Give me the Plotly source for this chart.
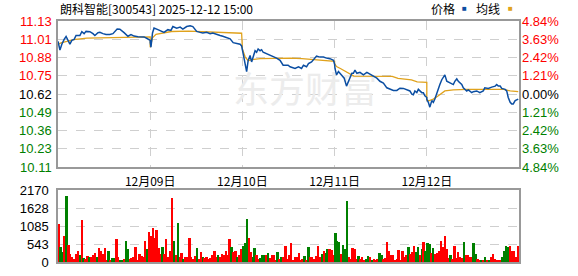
import plotly.graph_objects as go

# ---------------- data ----------------
title_text = "朗科智能[300543] 2025-12-12 15:00"
day_labels = ["12月08日", "12月09日", "12月10日", "12月11日", "12月12日"]
prev_close = 10.62
pct_ticks = [4.84, 3.63, 2.42, 1.21, 0.0, -1.21, -2.42, -3.63, -4.84]
vol_ticks = [0, 543, 1085, 1628, 2170]
minutes_per_day = 240

# price: minute-of-day and price, per day
price_t = [
    [0, 5, 10, 13, 16, 21, 26, 31, 36, 42, 47, 57, 62, 68, 73, 83, 91, 96, 104, 109, 117, 125, 135, 143, 154, 161, 172, 182, 190, 198, 208, 216, 224, 232, 240],
    [0, 2, 6, 10, 20, 28, 36, 46, 54, 59, 69, 78, 85, 95, 104, 111, 121, 130, 137, 147, 156, 163, 173, 182, 189, 199, 208, 216, 225, 234, 238],
    [0, 2, 7, 11, 15, 20, 24, 28, 33, 37, 41, 46, 50, 54, 63, 72, 80, 89, 98, 106, 119, 124, 137, 146, 154, 159, 167, 172, 180, 189, 193, 202, 211, 219, 228, 237],
    [0, 1, 5, 10, 14, 18, 25, 31, 36, 40, 45, 49, 53, 58, 66, 75, 84, 92, 101, 110, 118, 127, 136, 144, 153, 162, 170, 179, 188, 196, 201, 205, 209, 214, 218, 222, 227, 231, 235, 240],
    [0, 4, 8, 13, 17, 21, 26, 30, 34, 39, 43, 47, 52, 56, 60, 65, 69, 73, 78, 82, 86, 91, 95, 99, 104, 108, 112, 117, 121, 130, 138, 147, 151, 160, 169, 178, 182, 186, 191, 195, 204, 208, 212, 217, 221, 225, 230, 234, 238],
]
price_v = [
    [10.991, 10.930, 10.971, 10.991, 11.005, 11.025, 10.998, 10.971, 10.998, 11.005, 11.032, 11.032, 11.059, 11.045, 11.061, 11.059, 11.045, 11.032, 11.052, 11.054, 11.045, 11.039, 11.039, 11.045, 11.077, 11.076, 11.052, 11.027, 11.039, 11.028, 11.023, 11.025, 11.022, 11.011, 10.998],
    [10.985, 10.950, 11.050, 11.084, 11.073, 11.061, 11.054, 11.073, 11.068, 11.095, 11.084, 11.091, 11.077, 11.095, 11.100, 11.095, 11.061, 11.054, 11.050, 11.054, 11.045, 11.050, 11.039, 11.032, 11.027, 11.016, 11.009, 10.982, 10.977, 10.971, 10.959],
    [10.930, 10.914, 10.846, 10.778, 10.857, 10.891, 10.846, 10.880, 10.925, 10.914, 10.937, 10.925, 10.932, 10.914, 10.903, 10.891, 10.887, 10.873, 10.857, 10.823, 10.823, 10.812, 10.800, 10.812, 10.800, 10.823, 10.812, 10.834, 10.846, 10.880, 10.887, 10.880, 10.880, 10.873, 10.869, 10.857],
    [10.830, 10.800, 10.755, 10.778, 10.766, 10.755, 10.732, 10.676, 10.710, 10.744, 10.766, 10.766, 10.789, 10.766, 10.773, 10.755, 10.773, 10.760, 10.744, 10.732, 10.710, 10.698, 10.664, 10.653, 10.646, 10.646, 10.661, 10.660, 10.653, 10.642, 10.619, 10.615, 10.642, 10.630, 10.653, 10.642, 10.630, 10.630, 10.608, 10.596],
    [10.583, 10.562, 10.528, 10.574, 10.562, 10.585, 10.630, 10.664, 10.687, 10.721, 10.744, 10.755, 10.710, 10.705, 10.698, 10.691, 10.687, 10.710, 10.728, 10.710, 10.698, 10.687, 10.664, 10.653, 10.642, 10.649, 10.642, 10.630, 10.637, 10.642, 10.630, 10.642, 10.664, 10.660, 10.669, 10.676, 10.687, 10.676, 10.676, 10.660, 10.653, 10.642, 10.596, 10.562, 10.551, 10.551, 10.574, 10.578, 10.585],
]

# average price line (per-day VWAP)
avg_t = [
    [0, 8, 23, 40, 75, 143, 155, 240],
    [0, 6, 15, 33, 55, 100, 130, 180, 238],
    [0, 7, 15, 25, 46, 125, 155, 200, 240],
    [0, 5, 15, 35, 50, 150, 165, 200, 215, 240],
    [0, 5, 17, 30, 47, 69, 104, 200, 217, 238],
]
avg_v = [
    [10.970, 10.980, 10.990, 11.003, 11.013, 11.016, 11.020, 11.022],
    [10.950, 11.016, 11.040, 11.050, 11.060, 11.063, 11.060, 11.054, 11.048],
    [10.937, 10.882, 10.855, 10.862, 10.869, 10.873, 10.869, 10.857, 10.850],
    [10.834, 10.814, 10.800, 10.766, 10.746, 10.744, 10.730, 10.720, 10.706, 10.702],
    [10.580, 10.572, 10.585, 10.608, 10.642, 10.649, 10.653, 10.653, 10.642, 10.637],
]

# volume in 5-minute buckets (48 per day); direction r = up, g = down
volumes = [
    [1130, 450, 300, 780, 2000, 500, 240, 150, 90, 230, 330, 200, 1260, 120, 90, 160, 140, 140, 190, 255, 140, 400, 315, 230, 400, 60, 315, 60, 110, 120, 700, 140, 60, 60, 90, 610, 380, 90, 120, 140, 430, 60, 235, 160, 140, 610, 380, 890],
    [775, 1020, 727, 970, 400, 235, 450, 240, 700, 140, 330, 1935, 610, 190, 1170, 140, 255, 90, 140, 150, 730, 140, 90, 160, 400, 90, 285, 140, 120, 140, 90, 120, 190, 335, 140, 190, 140, 235, 190, 335, 190, 680, 430, 285, 335, 140, 190, 385],
    [480, 550, 1286, 727, 285, 140, 400, 190, 90, 110, 190, 190, 200, 255, 120, 190, 190, 60, 285, 90, 140, 140, 480, 90, 190, 550, 60, 140, 140, 255, 60, 90, 170, 60, 430, 140, 140, 90, 170, 460, 140, 235, 315, 255, 385, 385, 355, 215],
    [875, 610, 580, 235, 510, 385, 1827, 140, 90, 400, 385, 90, 160, 90, 140, 60, 90, 170, 140, 60, 90, 60, 90, 255, 190, 90, 120, 580, 335, 190, 190, 60, 90, 355, 60, 335, 140, 190, 430, 235, 285, 460, 285, 430, 190, 385, 580, 335],
    [550, 530, 255, 400, 235, 255, 335, 610, 450, 775, 385, 120, 190, 90, 480, 120, 285, 140, 120, 580, 190, 215, 140, 140, 550, 235, 90, 60, 60, 60, 140, 60, 60, 140, 235, 90, 50, 60, 50, 140, 335, 480, 450, 480, 335, 335, 140, 480],
]
vol_dirs = [
    "rggrgrrrrrrgrgrrgrrrgrrrrrgrggrrggrggrrrrrrrrrgr",
    "rrrrrrgrrrrrgrgrrgrrrrrrgrrgrrrrrrrgrrrrrrgrrgrr",
    "gggrrggrrgggrgrrrrgrgrrrrrrrrrrrgrgrrrrrrgrggrrr",
    "gggrgggrrrrrgrrrggrgrrrggrrrrrrrrrrrrrgrrrggrgrg",
    "ggrgrrrrrrrrgrrrrrrgrrrrggrrgrgrgrrrrrrggggrrrrr",
]

# ---------------- styles ----------------
BLUE = "#0b4ea2"
ORANGE = "#e0a21c"
RED = "#ff0000"
GREEN = "#008000"
GRID = "#cfcfcf"
BORDER = "#999999"
FONT = "Liberation Sans"
CJK = "Noto Sans CJK SC"

# ---------------- build ----------------
px, py = [], []
for d in range(5):
    for t, v in zip(price_t[d], price_v[d]):
        px.append(d * minutes_per_day + t)
        py.append(v)
ax, ay = [], []
for d in range(5):
    for t, v in zip(avg_t[d], avg_v[d]):
        ax.append(d * minutes_per_day + t)
        ay.append(v)
bucket = 5
vx, vy, vc = [], [], []
for d in range(5):
    for k, v in enumerate(volumes[d]):
        vx.append(d * minutes_per_day + k * bucket + bucket / 2)
        vy.append(v)
        vc.append(RED if vol_dirs[d][k] == "r" else GREEN)

price_ticks = [prev_close * (1 + p / 100) for p in pct_ticks]
lo, hi = price_ticks[-1], price_ticks[0]


def col(p):
    if p > 0:
        return RED
    if p < 0:
        return GREEN
    return "#000000"


left_text = [f'<span style="color:{col(p)}">{v:.2f}</span>' for p, v in zip(pct_ticks, price_ticks)]
right_text = [f'<span style="color:{col(p)}">{abs(p):.2f}%</span>' for p in pct_ticks]

fig = go.Figure()

# watermark (below the lines)
fig.add_trace(go.Scatter(
    x=[643], y=[prev_close], mode="text", text=["东方财富"],
    textfont=dict(family=CJK, size=36, color="#ececec"),
    hoverinfo="skip", showlegend=False, cliponaxis=False,
))
fig.add_trace(go.Scatter(x=ax, y=ay, mode="lines", line=dict(color=ORANGE, width=1.3),
                         showlegend=False, hoverinfo="skip"))
fig.add_trace(go.Scatter(x=px, y=py, mode="lines", line=dict(color=BLUE, width=1.5),
                         showlegend=False, hoverinfo="skip"))
fig.add_trace(go.Scatter(x=[None], y=[None], yaxis="y3", showlegend=False))
fig.add_trace(go.Bar(x=vx, y=vy, width=bucket, marker=dict(color=vc, line=dict(width=0)),
                     xaxis="x2", yaxis="y2", showlegend=False, hoverinfo="skip"))

W, H = 578, 276
ml, mr, mt, mb = 58, 59, 21, 6
ph = H - mt - mb
main_bottom = (270 - 172) / ph
vol_top = (270 - 196) / ph

axis_common = dict(showline=True, mirror=True, linecolor=BORDER, linewidth=1.5,
                   zeroline=False, ticks="", fixedrange=True)
xr = [0, 5 * minutes_per_day]

fig.update_layout(
    width=W, height=H,
    margin=dict(l=ml, r=mr, t=mt, b=mb),
    paper_bgcolor="white", plot_bgcolor="white",
    showlegend=False,
    bargap=0,
    xaxis=dict(domain=[0, 1], range=xr, anchor="y",
               tickvals=[d * minutes_per_day for d in range(1, 5)],
               ticktext=day_labels[1:],
               showgrid=True, gridcolor=GRID, griddash="dash", gridwidth=1,
               tickfont=dict(family=CJK, size=12, color="#000"), ticklabelstandoff=3,
               **axis_common),
    yaxis=dict(domain=[main_bottom, 1], range=[lo, hi], anchor="x",
               tickvals=price_ticks, ticktext=left_text,
               showgrid=True, gridcolor=GRID, griddash="dash", gridwidth=1,
               tickfont=dict(family=FONT, size=13), ticklabelstandoff=2,
               **axis_common),
    yaxis3=dict(overlaying="y", side="right", range=[lo, hi], anchor="x",
                tickvals=price_ticks, ticktext=right_text, showgrid=False,
                tickfont=dict(family=FONT, size=13), ticklabelstandoff=2,
                showline=False, zeroline=False, ticks="", fixedrange=True),
    xaxis2=dict(domain=[0, 1], range=xr, anchor="y2", showticklabels=False,
                tickvals=[d * minutes_per_day for d in range(1, 5)],
                showgrid=False, **axis_common),
    yaxis2=dict(domain=[0, vol_top], range=[0, vol_ticks[-1]], anchor="x2",
                tickvals=vol_ticks, ticktext=[str(v) for v in vol_ticks],
                showgrid=True, gridcolor=GRID, griddash="dash", gridwidth=1,
                tickfont=dict(family=FONT, size=13, color="#000"), ticklabelstandoff=5,
                **axis_common),
    annotations=[
        dict(text=title_text, xref="paper", yref="paper", x=0, y=1 + 13 / ph,
             xanchor="left", yanchor="middle", showarrow=False,
             font=dict(family=CJK, size=12, color="#000")),
        dict(text="价格", xref="paper", yref="paper", x=(443 - ml) / 461, y=1 + 13 / ph,
             xanchor="center", yanchor="middle", showarrow=False,
             font=dict(family=CJK, size=12, color="#000")),
        dict(text="■", xref="paper", yref="paper", x=(464 - ml) / 461, y=1 + 13 / ph,
             xanchor="center", yanchor="middle", showarrow=False,
             font=dict(family=FONT, size=8, color=BLUE)),
        dict(text="均线", xref="paper", yref="paper", x=(488 - ml) / 461, y=1 + 13 / ph,
             xanchor="center", yanchor="middle", showarrow=False,
             font=dict(family=CJK, size=12, color="#000")),
        dict(text="■", xref="paper", yref="paper", x=(510 - ml) / 461, y=1 + 13 / ph,
             xanchor="center", yanchor="middle", showarrow=False,
             font=dict(family=FONT, size=8, color=ORANGE)),
    ],
)

fig.write_html("out.html")
